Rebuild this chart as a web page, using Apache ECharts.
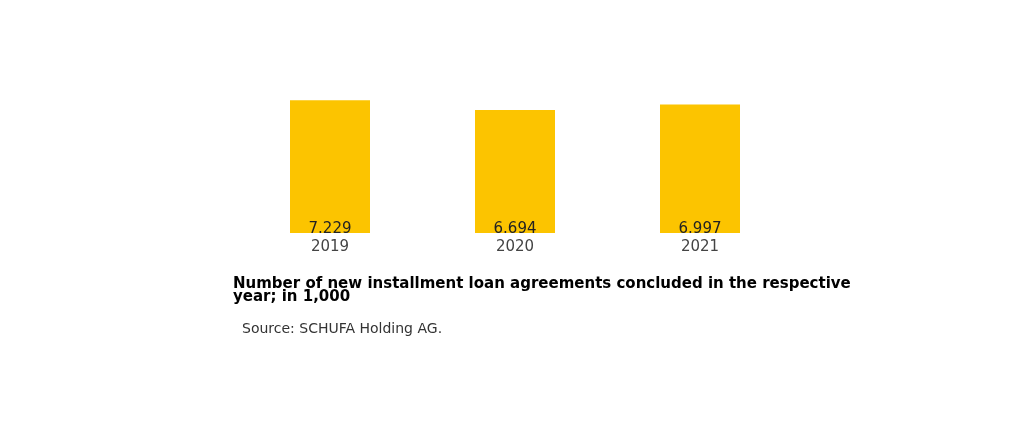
<!DOCTYPE html>
<html>
<head>
<meta charset="utf-8">
<script src="https://cdn.jsdelivr.net/npm/echarts@6/dist/echarts.min.js"></script>
<style>
  html, body { margin: 0; padding: 0; background: #fff; }
  #main { width: 1030px; height: 430px; }
</style>
</head>
<body>
<div id="main"></div>
<script>
const years = ["2019", "2020", "2021"];
const loans = [7.229, 6.694, 6.997];
const titleText = "Number of new installment loan agreements concluded in the respective\nyear; in 1,000";
const sourceText = "Source: SCHUFA Holding AG.";

let chart = echarts.init(document.getElementById("main"));
let option = {
  animation: false,
  textStyle: { fontFamily: "DejaVu Sans" },
  title: [
    {
      text: titleText,
      left: 228,
      top: 273,
      textStyle: { fontSize: 15, fontWeight: "bold", color: "#000", lineHeight: 13, fontFamily: "DejaVu Sans" },
    },
    {
      text: sourceText,
      left: 237,
      top: 317,
      textStyle: { fontSize: 14, fontWeight: "normal", color: "#333", lineHeight: 14, fontFamily: "DejaVu Sans" },
    },
  ],
  grid: { left: 237.5, width: 555, top: 86, bottom: 197 },
  xAxis: {
    type: "category",
    data: years,
    axisLine: { show: false },
    axisTick: { show: false },
    axisLabel: { color: "#444", fontSize: 15, lineHeight: 14, margin: 7 },
  },
  yAxis: {
    type: "value",
    min: 0,
    max: 8,
    show: false,
    splitLine: { show: false },
  },
  series: [
    {
      type: "bar",
      data: loans,
      barWidth: 80,
      itemStyle: { color: "#FCC400" },
      label: {
        show: true,
        position: "insideBottom",
        distance: -2,
        color: "#222",
        fontSize: 15,
        lineHeight: 12,
        formatter: (p) => p.value.toFixed(3),
      },
    },
  ],
};
chart.setOption(option);
</script>
</body>
</html>
